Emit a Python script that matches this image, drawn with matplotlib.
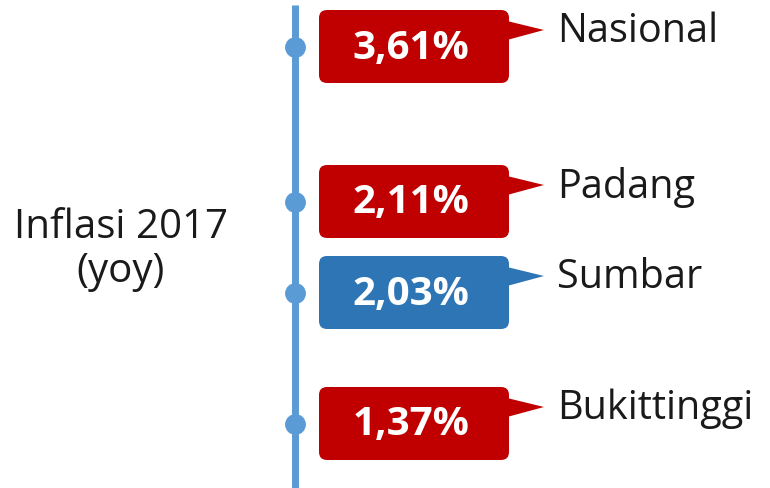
import matplotlib.pyplot as plt
from matplotlib.patches import FancyBboxPatch, Polygon

# Inflasi 2017 (yoy) callout chart
regions = ['Nasional', 'Padang', 'Sumbar', 'Bukittinggi']
values = [3.61, 2.11, 2.03, 1.37]
box_colors = ['#C00000', '#C00000', '#2E75B6', '#C00000']

# layout (pixel coords, y downwards)
row_y = [47, 202, 293, 424]
line_color = '#5B9BD5'

fig = plt.figure(figsize=(7.7, 4.88), dpi=100)
ax = fig.add_axes([0, 0, 1, 1])
ax.set_xlim(0, 770)
ax.set_ylim(488, 0)
ax.axis('off')

ax.plot([295, 295], [5, 488], color=line_color, linewidth=5, solid_capstyle='butt', zorder=1)

for name, val, col, y in zip(regions, values, box_colors, row_y):
    ax.plot(295, y, 'o', color=line_color, markersize=14, zorder=2)
    x0, x1 = 319, 509
    top, bot = y - 37, y + 36
    box = FancyBboxPatch((x0 + 8, top + 8), x1 - x0 - 16, bot - top - 16,
                         boxstyle='round,pad=8', facecolor=col, edgecolor='none', zorder=3)
    ax.add_patch(box)
    tail = Polygon([(x1 - 2, top + 11), (x1 - 2, top + 30), (x1 + 35, top + 20)],
                   closed=True, facecolor=col, edgecolor='none', zorder=3)
    ax.add_patch(tail)
    ax.text((x0 + x1) / 2 - 3, y + 1, f'{val:.2f}%'.replace('.', ','), color='white',
            fontsize=29, fontweight='bold', family='Open Sans', ha='center', va='center', zorder=4)
    ax.text(557, top + 22, name, color='#1a1a1a', fontsize=28.5, family='Open Sans',
            ha='left', va='center', zorder=4)

ax.text(121, 228, 'Inflasi 2017', fontsize=29, family='Open Sans', color='#1a1a1a', ha='center', va='center')
ax.text(121, 272, '(yoy)', fontsize=29, family='Open Sans', color='#1a1a1a', ha='center', va='center')

fig.savefig('out.png', dpi=100)
